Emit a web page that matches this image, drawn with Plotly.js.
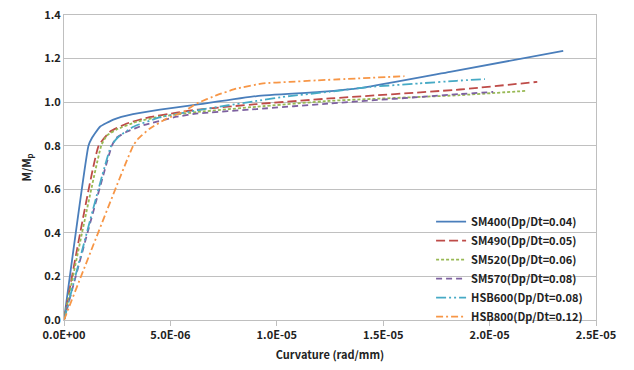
<!DOCTYPE html>
<html>
<head>
<meta charset="utf-8">
<script src="https://cdn.plot.ly/plotly-3.0.1.min.js"></script>
<style>html,body{margin:0;padding:0;background:#fff;}#chart{width:634px;height:370px;}</style>
</head>
<body>
<div id="chart"></div>
<script>
// Curvature (rad/mm) and M/Mp for each steel grade
const names = ["SM400(Dp/Dt=0.04)", "SM490(Dp/Dt=0.05)", "SM520(Dp/Dt=0.06)", "SM570(Dp/Dt=0.08)", "HSB600(Dp/Dt=0.08)", "HSB800(Dp/Dt=0.12)"];

const sm400X = [0, 1.15e-6, 1.3e-6, 1.69e-6, 2.32e-6, 3.24e-6, 4.51e-6, 6.06e-6, 9.06e-6, 12.03e-6, 14.07e-6, 18.14e-6, 23.46e-6];
const sm400Y = [0, 0.80, 0.833, 0.887, 0.92, 0.945, 0.966, 0.986, 1.028, 1.047, 1.067, 1.139, 1.235];

const sm490X = [0, 1.63e-6, 2.16e-6, 2.95e-6, 3.89e-6, 5.3e-6, 6.3e-6, 9.06e-6, 12.5e-6, 18.6e-6, 22.24e-6];
const sm490Y = [0, 0.80, 0.864, 0.902, 0.928, 0.952, 0.966, 0.991, 1.017, 1.058, 1.093];

const sm520X = [0, 1.75e-6, 2.0e-6, 2.48e-6, 3.42e-6, 4.5e-6, 6.3e-6, 9.06e-6, 12.5e-6, 18.6e-6, 21.76e-6];
const sm520Y = [0, 0.80, 0.845, 0.875, 0.91, 0.933, 0.955, 0.979, 1.006, 1.032, 1.052];

const sm570X = [0, 2.25e-6, 2.45e-6, 2.95e-6, 3.73e-6, 5.3e-6, 6.3e-6, 9.06e-6, 12.5e-6, 18.6e-6, 20.17e-6];
const sm570Y = [0, 0.80, 0.835, 0.864, 0.894, 0.933, 0.948, 0.968, 0.994, 1.037, 1.047];

const hsb600X = [0, 2.22e-6, 2.55e-6, 3.26e-6, 4.5e-6, 6.4e-6, 9.06e-6, 10.6e-6, 12.5e-6, 14.4e-6, 16.7e-6, 18.45e-6, 19.78e-6];
const hsb600Y = [0, 0.80, 0.84, 0.887, 0.93, 0.965, 1.006, 1.028, 1.048, 1.07, 1.086, 1.098, 1.106];

const hsb800X = [0, 3.25e-6, 3.49e-6, 4.04e-6, 4.83e-6, 5.6e-6, 6.24e-6, 7.18e-6, 8.1e-6, 9.36e-6, 10.6e-6, 11.9e-6, 16.0e-6];
const hsb800Y = [0, 0.80, 0.833, 0.879, 0.925, 0.955, 0.994, 1.032, 1.062, 1.086, 1.093, 1.10, 1.119];

const xTickVals = [0, 5e-6, 1e-5, 1.5e-5, 2e-5, 2.5e-5];
const xTickText = ["0.0E+00", "5.0E-06", "1.0E-05", "1.5E-05", "2.0E-05", "2.5E-05"];

const xs = [sm400X, sm490X, sm520X, sm570X, hsb600X, hsb800X];
const ys = [sm400Y, sm490Y, sm520Y, sm570Y, hsb600Y, hsb800Y];
const colors = ["#4A7EBB", "#BE4B48", "#98B954", "#7D60A0", "#46AAC5", "#F79646"];
const dashes = ["solid", "9px,4px", "3px,2px", "6px,4px", "10px,3px,2px,3px,2px,3px", "7px,3px,2px,3px"];

const font = {family: "Noto Sans CJK KR, Noto Sans, DejaVu Sans, sans-serif", size: 11, color: "#222", weight: "bold"};

const traces = names.map((n, i) => ({
  x: xs[i], y: ys[i], name: n, type: "scatter", mode: "lines",
  line: {color: colors[i], width: 1.8, dash: dashes[i], shape: "spline", smoothing: 0.4}
}));

const layout = {
  width: 634, height: 370,
  margin: {l: 64, r: 38, t: 15, b: 50},
  paper_bgcolor: "#fff", plot_bgcolor: "#fff",
  font: font,
  showlegend: true,
  legend: {x: 0.69, xanchor: "left", y: 0.37, yanchor: "top", bgcolor: "rgba(0,0,0,0)", font: font, itemwidth: 30, tracegroupgap: 0},
  xaxis: {
    range: [0, 2.5e-5], tickvals: xTickVals, ticktext: xTickText,
    showgrid: false, zeroline: false, showline: true, linecolor: "#BFBFBF", linewidth: 1, mirror: true,
    ticks: "outside", ticklen: 5, tickcolor: "#BFBFBF", tickfont: font,
    title: {text: "Curvature (rad/mm)", font: font, standoff: 10}
  },
  yaxis: {
    range: [0, 1.4], dtick: 0.2, tickformat: ".1f",
    showgrid: true, gridcolor: "#C0C0C0", zeroline: false, showline: true, linecolor: "#BFBFBF", linewidth: 1, mirror: true,
    ticks: "", tickfont: font,
    title: {text: "M/M<sub>p</sub>", font: font, standoff: 10}
  }
};

Plotly.newPlot("chart", traces, layout, {staticPlot: true, displayModeBar: false});
</script>
</body>
</html>
